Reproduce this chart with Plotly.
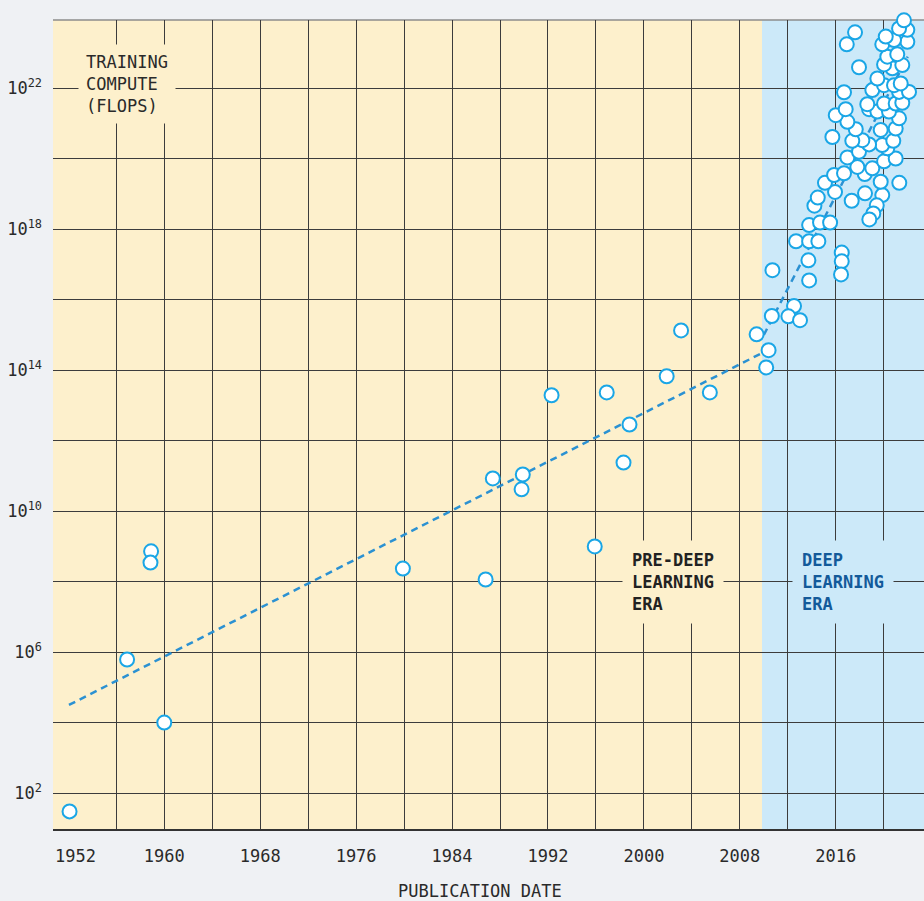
import plotly.graph_objects as go

# ---------------- data ----------------
pre_years = [1952.1, 1956.9, 1958.9, 1958.85, 1960.0, 1979.9, 1986.8, 1987.4, 1989.8, 1989.9,
             1992.3, 1995.9, 1996.9, 1998.3, 1998.8, 2001.9, 2003.1, 2005.5, 2009.4, 2010.2, 2010.4]
pre_log_flops = [1.48, 5.79, 8.86, 8.54, 4.0, 8.37, 8.06, 10.93, 10.62, 11.04,
                 13.29, 9.0, 13.37, 11.38, 12.46, 13.83, 15.13, 13.37, 15.02, 14.08, 14.57]

dl_years = [2010.72, 2010.67, 2012.52, 2012.05, 2013.02, 2013.78, 2013.72, 2012.69, 2013.78, 2014.55,
            2013.78, 2014.69, 2015.53, 2014.22, 2014.5, 2015.94, 2016.5, 2016.5, 2016.44, 2017.33,
            2018.44, 2019.88, 2019.42, 2019.13, 2018.8, 2015.1, 2019.75, 2021.3, 2015.86, 2016.69,
            2018.42, 2019.05, 2017.8, 2020.03, 2021.0, 2016.97, 2017.94, 2020.3, 2019.88, 2018.78,
            2020.8, 2018.22, 2017.38, 2015.72, 2021.0, 2019.75, 2017.67, 2021.28, 2016.97, 2016.0,
            2016.83, 2018.78, 2019.47, 2020.44, 2020.03, 2021.0, 2021.55, 2018.63, 2019.05, 2021.28,
            2022.11, 2020.03, 2020.86, 2021.42, 2019.47, 2016.69, 2020.72, 2021.55, 2020.03, 2020.3,
            2021.13, 2017.94, 2019.88, 2021.97, 2020.86, 2020.17, 2021.97, 2021.28, 2016.92, 2017.61,
            2021.69]
dl_log_flops = [16.84, 15.54, 15.82, 15.53, 15.42, 16.55, 17.12, 17.66, 17.66, 17.66,
                18.12, 18.19, 18.19, 18.67, 18.90, 19.06, 17.34, 17.09, 16.72, 18.81,
                19.02, 18.97, 18.68, 18.45, 18.28, 19.32, 19.35, 19.32, 19.54, 19.59,
                19.57, 19.73, 19.77, 19.93, 20.01, 20.04, 20.20, 20.30, 20.39, 20.41,
                20.51, 20.53, 20.51, 20.62, 20.86, 20.82, 20.84, 21.15, 21.05, 21.24,
                21.41, 21.41, 21.34, 21.34, 21.57, 21.57, 21.59, 21.55, 21.95, 21.90,
                21.90, 22.09, 22.09, 22.14, 22.28, 21.89, 22.57, 22.66, 22.68, 22.90,
                22.97, 22.60, 23.25, 23.32, 23.37, 23.47, 23.66, 23.70, 23.25, 23.59,
                23.93]

pre_trend_years = [1952.05, 2009.8]
pre_trend_log = [4.50, 14.48]
dl_trend_years = [2010.0, 2022.0]
dl_trend_log = [15.0, 22.9]

era_boundary = 2009.85
x_range = [1950.72, 2023.36]
y_log_range = [0.98, 23.94]

x_grid_years = list(range(1956, 2021, 4))
x_labeled_years = [1960, 1968, 1976, 1984, 1992, 2000, 2008, 2016]
first_year_label = "1952"
y_grid_exps = list(range(2, 23, 2))
y_labeled_exps = [2, 6, 10, 14, 18, 22]

# ---------------- styles ----------------
PAGE = "#eff1f4"
YELLOW = "#fdf0cc"
BLUE = "#cce9f9"
GRID = "#3c3c3c"
MARK = "#1aa6e6"
TREND = "#2b91d2"
TEXT = "#2a2a2a"
FONT = "DejaVu Sans Mono"


def p10(v):
    return 10.0 ** v


fig = go.Figure()

fig.add_trace(go.Scatter(x=pre_trend_years, y=[p10(v) for v in pre_trend_log], mode="lines",
                         line=dict(color=TREND, width=2.5, dash="7px,5px"), hoverinfo="skip",
                         showlegend=False))
fig.add_trace(go.Scatter(x=dl_trend_years, y=[p10(v) for v in dl_trend_log], mode="lines",
                         line=dict(color=TREND, width=2.5, dash="7px,5px"), hoverinfo="skip",
                         showlegend=False))

all_years = pre_years + dl_years
all_vals = [p10(v) for v in pre_log_flops + dl_log_flops]
fig.add_trace(go.Scatter(x=all_years, y=all_vals, mode="markers", cliponaxis=False,
                         marker=dict(size=14, color="white", line=dict(color=MARK, width=2)),
                         showlegend=False))

# era background
fig.add_shape(type="rect", xref="x", yref="paper", x0=era_boundary, x1=x_range[1], y0=0, y1=1,
              fillcolor=BLUE, line_width=0, layer="below")
# top border
fig.add_shape(type="line", xref="paper", yref="paper", x0=0, x1=1, y0=1, y1=1,
              line=dict(color="#8c8c8c", width=1.5), layer="below")

fig.update_xaxes(range=x_range, tickvals=x_grid_years,
                 ticktext=[str(y) if y in x_labeled_years else "" for y in x_grid_years],
                 showgrid=True, gridcolor=GRID, gridwidth=1, zeroline=False,
                 showline=True, linecolor="#333", linewidth=1.5, ticks="",
                 ticklabelstandoff=11, tickfont=dict(family=FONT, size=17, color=TEXT))
fig.update_yaxes(type="log", range=y_log_range, tickvals=[p10(e) for e in y_grid_exps],
                 ticktext=[f"10<sup>{e}</sup>" if e in y_labeled_exps else "" for e in y_grid_exps],
                 showgrid=True, gridcolor=GRID, gridwidth=1, zeroline=False, showline=False,
                 ticks="", ticklabelstandoff=10, tickfont=dict(family=FONT, size=17, color=TEXT))

fig.add_annotation(text=first_year_label, xref="paper", yref="paper", x=0, y=0,
                   xanchor="left", yanchor="top", yshift=-15, showarrow=False,
                   font=dict(family=FONT, size=17, color=TEXT))
fig.add_annotation(text="TRAINING<br>COMPUTE<br>(FLOPS)", xref="paper", yref="paper",
                   x=0.0287, y=0.921, xanchor="left", yanchor="middle", align="left",
                   showarrow=False, bgcolor=YELLOW, borderpad=7,
                   font=dict(family=FONT, size=17, color=TEXT))
fig.add_annotation(text="<b>PRE-DEEP<br>LEARNING<br>ERA</b>", xref="paper", yref="paper",
                   x=0.6533, y=0.3053, xanchor="left", yanchor="middle", align="left",
                   showarrow=False, bgcolor=YELLOW, borderpad=9,
                   font=dict(family=FONT, size=17, color="#222"))
fig.add_annotation(text="<b>DEEP<br>LEARNING<br>ERA</b>", xref="paper", yref="paper",
                   x=0.8485, y=0.3053, xanchor="left", yanchor="middle", align="left",
                   showarrow=False, bgcolor=BLUE, borderpad=9,
                   font=dict(family=FONT, size=17, color="#135a9a"))
fig.add_annotation(text="PUBLICATION DATE", xref="paper", yref="paper", x=0.49, y=-0.077,
                   xanchor="center", yanchor="middle", showarrow=False,
                   font=dict(family=FONT, size=17, color=TEXT))

fig.update_layout(width=924, height=901, margin=dict(l=53, r=0, t=20, b=72),
                  paper_bgcolor=PAGE, plot_bgcolor=YELLOW, showlegend=False,
                  hovermode=False)

fig.write_html("out.html", config={"displayModeBar": False},
               post_script="document.body.style.margin='0';document.body.style.overflow='hidden';")
